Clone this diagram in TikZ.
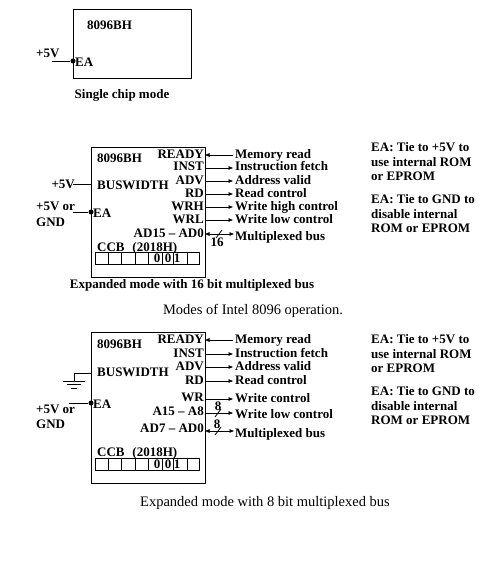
\documentclass[tikz,border=0pt]{standalone}
\usepackage{fontspec}
\setmainfont{Liberation Serif}
\usetikzlibrary{arrows.meta}
\begin{document}
\begin{tikzpicture}[x=1pt,y=-1pt,
  lbl/.style={font=\fontsize{13}{14}\selectfont\bfseries, inner sep=0pt},
  captxt/.style={font=\fontsize{14.5}{16}\selectfont, inner sep=0pt},
  wire/.style={line width=0.8pt},
  box/.style={line width=0.9pt},
  sig/.style={line width=0.8pt, -{Triangle[length=4.5pt,width=3.5pt]}},
  bus/.style={line width=0.8pt, {Triangle[length=4.5pt,width=3.5pt]}-{Triangle[length=4.5pt,width=3.5pt]}},
  dotc/.style={circle, fill=black, inner sep=0pt, minimum size=5pt}]
\useasboundingbox (0,0) rectangle (492,564);

% ---------- Single chip mode ----------
\draw[box] (73,9) rectangle (191,78);
\node[lbl, anchor=base west] (t1) at (87,30) {8096BH};
\node[dotc] (tdot) at (73,61) {};
\node[lbl, anchor=west] (tea) at (75,62) {EA};
\node[lbl, anchor=base west] (t5v) at (36,58) {+5V};
\coordinate (t5ve) at (52,61);
\draw[wire] (t5ve) -- (tdot);
\node[lbl] (tcap) at (122,95) {Single chip mode};

% ---------- Expanded 16-bit ----------
\draw[box] (91,147) rectangle (205,277);
\node[lbl, anchor=base west] (m1) at (97,163) {8096BH};
\node[lbl, anchor=base west] (mbw) at (97,189) {BUSWIDTH};
\node[lbl, anchor=base east] (m5v) at (75,188) {+5V};
\coordinate (m5ve) at (73,184);
\coordinate (mbwp) at (91,184);
\draw[wire] (m5ve) -- (mbwp);
\node[dotc] (mdot) at (91,212) {};
\node[lbl, anchor=west] (mea) at (93,213) {EA};
\node[lbl, anchor=base west] (mor) at (36,210) {+5V or};
\node[lbl, anchor=base west] (mgnd) at (36,226) {GND};
\coordinate (meal) at (73,212);
\draw[wire] (meal) -- (mdot);

% right pins
\foreach \n/\t/\y in {r1/READY/155, r2/INST/168, r3/ADV/181, r4/RD/194, r5/WRH/207, r6/WRL/220}{
  \node[lbl, anchor=base east] (m\n) at (204,\y+3) {\t};
  \coordinate (m\n a) at (205,\y);
  \coordinate (m\n b) at (233,\y);
}
\node[lbl, anchor=base east] (mbus) at (204,237) {AD15 -- AD0};
\coordinate (mbusa) at (205,234);
\coordinate (mbusb) at (234,234);
\draw[sig] (mr1b) -- (mr1a);
\foreach \n in {r2,r3,r4,r5,r6}{ \draw[sig] (m\n a) -- (m\n b); }
\draw[bus] (mbusa) -- (mbusb);
\coordinate (ms1) at (216,238); \coordinate (ms2) at (222,230);
\draw[wire] (ms1) -- (ms2);
\node[lbl, anchor=base] (m16) at (217,246) {16};

% right descriptions
\foreach \n/\t/\y in {d1/Memory read/155, d2/Instruction fetch/168, d3/Address valid/181, d4/Read control/194, d5/Write high control/207, d6/Write low control/220, d7/Multiplexed bus/237}{
  \node[lbl, anchor=base west] (m\n) at (235,\y+3) {\t};
}

% CCB
\node[lbl, anchor=base west] (mccb) at (97,251) {CCB\hspace{0.6em}(2018H)};
\draw[wire] (95,252) rectangle (199,264);
\foreach \x in {108,121,135,148,162,173,187}{ \draw[wire] (\x,252) -- (\x,264); }
\node[lbl, anchor=base] (mc0a) at (157,262.5) {0};
\node[lbl, anchor=base] (mc0b) at (168,262.5) {0};
\node[lbl, anchor=base] (mc1) at (177,262.5) {1};

\node[lbl] (mcap) at (192,285) {Expanded mode with 16 bit multiplexed bus};

% notes
\foreach \n/\t/\y in {a/EA: Tie to +5V to/147, b/use internal ROM/162, c/or EPROM/176, d/EA: Tie to GND to/199, e/disable internal/214, f/ROM or EPROM/228}{
  \node[lbl, anchor=base west] (mn\n) at (371,\y+4.5) {\t};
}

\node[captxt] (modes) at (253,311) {Modes of Intel 8096 operation.};

% ---------- Expanded 8-bit ----------
\draw[box] (91,332) rectangle (205,483);
\node[lbl, anchor=base west] (b1) at (97,348) {8096BH};
\node[lbl, anchor=base west] (bbw) at (97,376) {BUSWIDTH};
\coordinate (bbwp) at (91,373);
\coordinate (bg0) at (74,373);
\coordinate (bg1) at (74,381);
\draw[wire] (bbwp) -- (bg0) -- (bg1);
\draw[wire] (63,381) -- (85,381);
\draw[wire] (67,384.5) -- (81,384.5);
\draw[wire] (71,388) -- (77,388);
\node[dotc] (bdot) at (91,403) {};
\node[lbl, anchor=west] (bea) at (93,404) {EA};
\node[lbl, anchor=base west] (bor) at (36,413) {+5V or};
\node[lbl, anchor=base west] (bgnd) at (36,428) {GND};
\coordinate (beal) at (69,403);
\draw[wire] (beal) -- (bdot);

\foreach \n/\t/\y in {r1/READY/340, r2/INST/354, r3/ADV/367, r4/RD/381}{
  \node[lbl, anchor=base east] (b\n) at (204,\y+3) {\t};
  \coordinate (b\n a) at (205,\y);
  \coordinate (b\n b) at (233,\y);
}
\node[lbl, anchor=base east] (bwr) at (204,401) {WR};
\coordinate (bwra) at (205,399); \coordinate (bwrb) at (233,399);
\node[lbl, anchor=base east] (ba8) at (204,415) {A15 -- A8};
\coordinate (ba8a) at (205,413); \coordinate (ba8b) at (233,413);
\node[lbl, anchor=base east] (bbus) at (204,432) {AD7 -- AD0};
\coordinate (bbusa) at (205,431); \coordinate (bbusb) at (234,431);
\draw[sig] (br1b) -- (br1a);
\foreach \n in {r2,r3,r4,wr,a8}{ \draw[sig] (b\n a) -- (b\n b); }
\draw[bus] (bbusa) -- (bbusb);
\coordinate (bs1) at (215,417); \coordinate (bs2) at (221,409);
\draw[wire] (bs1) -- (bs2);
\node[lbl, anchor=base] (b8a) at (218,410) {8};
\coordinate (bs3) at (215,435); \coordinate (bs4) at (221,427);
\draw[wire] (bs3) -- (bs4);
\node[lbl, anchor=base] (b8b) at (217,428) {8};

\foreach \n/\t/\y in {d1/Memory read/340, d2/Instruction fetch/354, d3/Address valid/367, d4/Read control/381, d5/Write control/399, d6/Write low control/415, d7/Multiplexed bus/434}{
  \node[lbl, anchor=base west] (b\n) at (235,\y+3) {\t};
}

\node[lbl, anchor=base west] (bccb) at (97,456) {CCB\hspace{0.6em}(2018H)};
\draw[wire] (95,458) rectangle (199,470);
\foreach \x in {108,121,135,148,162,173,187}{ \draw[wire] (\x,458) -- (\x,470); }
\node[lbl, anchor=base] (bc0a) at (157,468.5) {0};
\node[lbl, anchor=base] (bc0b) at (168,468.5) {0};
\node[lbl, anchor=base] (bc1) at (177,468.5) {1};

\foreach \n/\t/\y in {a/EA: Tie to +5V to/339, b/use internal ROM/354, c/or EPROM/368, d/EA: Tie to GND to/391, e/disable internal/406, f/ROM or EPROM/420}{
  \node[lbl, anchor=base west] (bn\n) at (371,\y+4.5) {\t};
}

\node[captxt] (bcap) at (265,503) {Expanded mode with 8 bit multiplexed bus};
\end{tikzpicture}
\end{document}
